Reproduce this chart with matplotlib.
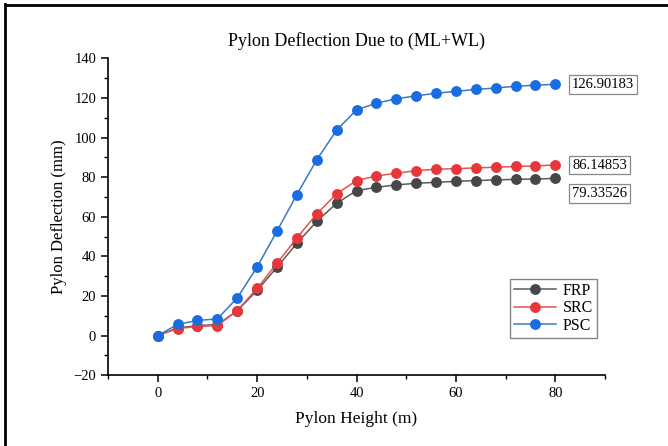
import matplotlib
matplotlib.use("Agg")
import matplotlib.pyplot as plt
from matplotlib.ticker import MultipleLocator
from matplotlib.lines import Line2D

height = [0, 4, 8, 12, 16, 20, 24, 28, 32, 36, 40, 44, 48, 52, 56, 60, 64, 68, 72, 76, 80]
frp = [0, 3.8, 5.0, 5.5, 12.5, 22.8, 34.5, 46.6, 57.7, 66.8, 73.2, 74.9, 76.1, 76.9, 77.4,
       77.9, 78.3, 78.6, 78.9, 79.1, 79.33526]
src = [0, 3.5, 4.6, 5.0, 12.6, 23.8, 36.5, 49.3, 61.5, 71.6, 78.3, 80.6, 82.0, 83.3, 84.0,
       84.3, 84.7, 85.0, 85.4, 85.7, 86.14853]
psc = [0, 5.6, 7.6, 8.4, 19.0, 34.6, 52.8, 71.2, 88.8, 103.8, 114.0, 117.4, 119.6, 121.1,
       122.4, 123.4, 124.3, 125.1, 125.9, 126.5, 126.90183]
series_names = ["FRP", "SRC", "PSC"]
end_labels = ["79.33526", "86.14853", "126.90183"]

plt.rcParams['font.family'] = ['Liberation Serif', 'DejaVu Serif']

fig = plt.figure(figsize=(6.68, 4.46), dpi=100)
ax = fig.add_axes([0.1617, 0.159, 0.7441, 0.710])

marker_cols = ["#474747", "#e8373b", "#1a6de0"]
line_cols = ["#5a5a5a", "#e85050", "#3a78c8"]
data = [frp, src, psc]
for name, vals, mc, lc in zip(series_names, data, marker_cols, line_cols):
    ax.plot(height, vals, color=lc, lw=1.1, marker='o', markersize=6.8,
            markerfacecolor=mc, markeredgecolor=mc, label=name)

ax.set_xlim(-10, 90)
ax.set_ylim(-20, 140)
ax.xaxis.set_major_locator(MultipleLocator(20))
ax.xaxis.set_minor_locator(MultipleLocator(10))
ax.yaxis.set_major_locator(MultipleLocator(20))
ax.yaxis.set_minor_locator(MultipleLocator(10))
ax.spines['top'].set_visible(False)
ax.spines['right'].set_visible(False)
for s in ['left', 'bottom']:
    ax.spines[s].set_linewidth(1.2)
ax.tick_params(which='major', direction='out', length=5, width=1.1, labelsize=10.5)
ax.tick_params(which='minor', direction='out', length=3, width=1.0)

ax.set_title("Pylon Deflection Due to (ML+WL)", fontsize=13, pad=9)
ax.set_xlabel("Pylon Height (m)", fontsize=12.5, labelpad=8)
ax.set_ylabel("Pylon Deflection (mm)", fontsize=12, labelpad=5)

# end value labels
offsets = [(12, -11), (12, 0), (12, 0)]
for vals, lab, off in zip(data, end_labels, offsets):
    ax.annotate(lab, xy=(height[-1], vals[-1]), xytext=off, textcoords='offset points',
                ha='left', va='center', fontsize=10.5,
                bbox=dict(boxstyle='square,pad=0.2', fc='white', ec='#888888', lw=0.9))

leg = ax.legend(loc='lower right', bbox_to_anchor=(0.983, 0.117), fontsize=11.5,
                frameon=True, fancybox=False, edgecolor='#666666', handlelength=2.6,
                borderpad=0.25, labelspacing=0.1, handletextpad=0.4, borderaxespad=0)
leg.get_frame().set_linewidth(1.0)

# figure border (left and top)
fig.add_artist(Line2D([0.007, 0.007], [0, 0.99], transform=fig.transFigure, color='black', lw=2))
fig.add_artist(Line2D([0.007, 1.0], [0.988, 0.988], transform=fig.transFigure, color='black', lw=2))

fig.savefig("out.png", dpi=100)
